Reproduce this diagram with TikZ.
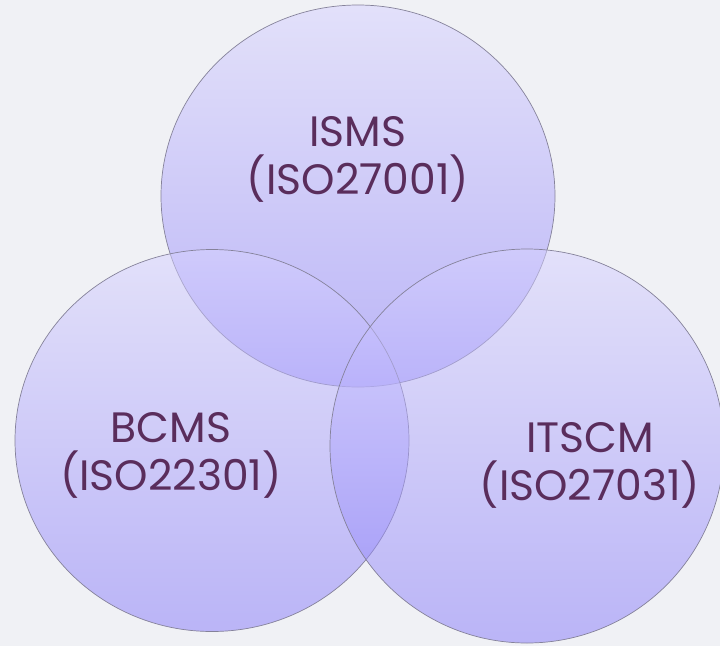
\documentclass[tikz,border=0pt]{standalone}
\usepackage{fontspec}
\setmainfont{Poppins}
\usetikzlibrary{shapes.geometric}
\usetikzlibrary{positioning}
\definecolor{paper}{HTML}{F0F1F5}
\definecolor{lavender}{HTML}{D6D1FF}
\definecolor{violet}{HTML}{8679F9}
\definecolor{outline}{HTML}{85829A}
\definecolor{plum}{HTML}{5A2D5C}
\tikzset{
  set/.style={
    draw=outline,
    ellipse,
    line width=0.7pt,
    top color=lavender,
    bottom color=violet,
    fill opacity=0.5,
    minimum width=394pt,
    minimum height=382pt,
    inner sep=0,
  },
  caption/.style={
    text=plum,
    node font=\fontsize{42.5}{48}\selectfont,
    align=center,
    inner sep=0,
  },
}

\begin{document}
\begin{tikzpicture}[x=1pt,y=-1pt]
  \useasboundingbox[fill=paper] (0,0) rectangle (720,646);

  \node (isms)  [set]                        at (358,196)   {};
  \node (bcms)  [set]                        at (212,440.5) {};
  \node (itscm) [set,minimum height=394pt]   at (527,446)   {};

  \node (isms text)  [caption] at ([yshift=37pt]isms.center)               {ISMS\\(ISO27001)};
  \node (bcms text)  [caption] at ([xshift=-41pt,yshift=-15pt]bcms.center)  {BCMS\\(ISO22301)};
  \node (itscm text) [caption] at ([xshift=63pt,yshift=-19pt]itscm.center)  {ITSCM\\(ISO27031)};
\end{tikzpicture}
\end{document}
